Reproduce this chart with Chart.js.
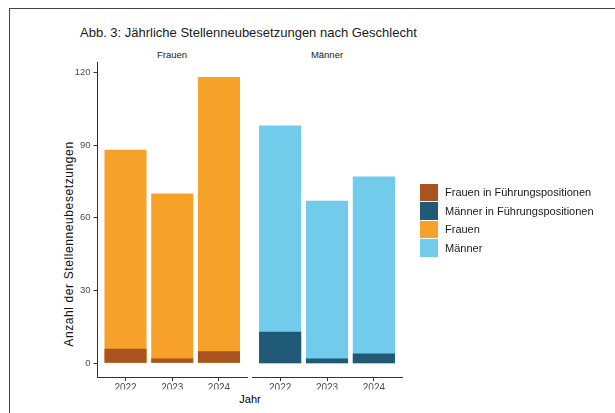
<!DOCTYPE html>
<html lang="de">
<head>
<meta charset="utf-8">
<script src="https://cdn.jsdelivr.net/npm/chart.js@4"></script>
<style>
  html, body { margin:0; padding:0; background:#fff; }
  body { width:615px; height:413px; position:relative; overflow:hidden; font-family:"Liberation Sans", Arial, sans-serif; }
  .frame { position:absolute; left:9px; top:8px; width:620px; height:420px; border-left:1px solid #444; border-top:1px solid #444; }
  .txt { position:absolute; white-space:nowrap; color:#1a1a1a; }
  #title { left:80px; top:25px; font-size:13px; }
  .strip { top:49px; font-size:9.5px; color:#222; transform:translateX(-50%); }
  #xtitle { left:250px; top:393px; font-size:11px; color:#000; transform:translateX(-50%); }
  #ytitle { left:69px; top:244px; font-size:12px; letter-spacing:0.6px; color:#111; transform:translate(-50%,-50%) rotate(-90deg); }
  canvas { position:absolute; top:0; }
  #legend { position:absolute; left:420px; top:183px; }
  .item { display:flex; align-items:center; height:18.6px; }
  .box { width:18px; height:17.5px; margin-right:7px; }
  .lab { font-size:11px; color:#1a1a1a; }
</style>
</head>
<body>
<div class="frame"></div>
<div class="txt" id="title">Abb. 3: Jährliche Stellenneubesetzungen nach Geschlecht</div>
<div class="txt strip" style="left:172px">Frauen</div>
<div class="txt strip" style="left:327px">Männer</div>
<div class="txt" id="ytitle">Anzahl der Stellenneubesetzungen</div>
<div class="txt" id="xtitle">Jahr</div>
<canvas id="left" width="250" height="413" style="left:0;width:250px;height:413px"></canvas>
<canvas id="right" width="200" height="413" style="left:250px;width:200px;height:413px"></canvas>
<div id="legend"></div>
<script>
const years = ['2022', '2023', '2024'];
const yTicks = [0, 30, 60, 90, 120];
const frauen = [88, 70, 118];
const frauenFuehrung = [6, 2, 5];
const maenner = [98, 67, 77];
const maennerFuehrung = [13, 2, 4];

const colors = {
  frauenFuehrung: '#a9541f',
  maennerFuehrung: '#215a76',
  frauen: '#f6a12a',
  maenner: '#72cbea'
};
const legendItems = [
  ['Frauen in Führungspositionen', colors.frauenFuehrung],
  ['Männer in Führungspositionen', colors.maennerFuehrung],
  ['Frauen', colors.frauen],
  ['Männer', colors.maenner]
];

const axisColor = '#333';
const tickFont = { family: 'Liberation Sans', size: 9.5 };

function points(values) {
  return values.map((v, i) => ({ x: i + 1, y: v }));
}

// one facet panel: total bars with the leadership share drawn over them
function panel(id, total, lead, totalColor, leadColor, showY, padLeft, padRight) {
  return new Chart(document.getElementById(id), {
    type: 'bar',
    data: {
      datasets: [
        { label: 'lead', data: points(lead), backgroundColor: leadColor },
        { label: 'total', data: points(total), backgroundColor: totalColor }
      ]
    },
    options: {
      responsive: false,
      animation: false,
      layout: { padding: { top: 62.8, bottom: 23.4, left: padLeft, right: padRight } },
      datasets: { bar: { barPercentage: 0.9, categoryPercentage: 1, borderWidth: 0 } },
      plugins: { legend: { display: false }, tooltip: { enabled: false } },
      scales: {
        x: {
          type: 'linear', stacked: true, min: 0.4, max: 3.6, offset: false,
          afterBuildTicks: s => { s.ticks = years.map((y, i) => ({ value: i + 1 })); },
          afterFit: s => { s.height = 12; },
          grid: { offset: false, drawOnChartArea: false, drawTicks: true, tickLength: 3.5, color: axisColor },
          border: { display: true, color: axisColor, width: 1 },
          ticks: { padding: 1.5, color: '#4d4d4d', font: { family: 'Liberation Sans', size: 10 },
                   maxRotation: 0, autoSkip: false, callback: (v) => years[v - 1] }
        },
        y: {
          display: showY, stacked: false, min: -5.9, max: 123.9,
          afterBuildTicks: s => { s.ticks = yTicks.map(v => ({ value: v })); },
          afterFit: s => { s.width = showY ? 97.5 - padLeft : 0; },
          grid: { drawOnChartArea: false, drawTicks: true, tickLength: 4, color: axisColor },
          border: { display: true, color: axisColor, width: 1 },
          ticks: { padding: 3, color: '#4d4d4d', font: tickFont }
        }
      }
    }
  });
}

panel('left', frauen, frauenFuehrung, colors.frauen, colors.frauenFuehrung, true, 0, 3);
panel('right', maenner, maennerFuehrung, colors.maenner, colors.maennerFuehrung, false, 2, 48);

const legend = document.getElementById('legend');
legendItems.forEach(([name, col]) => {
  const row = document.createElement('div');
  row.className = 'item';
  row.innerHTML = `<div class="box" style="background:${col}"></div><span class="lab">${name}</span>`;
  legend.appendChild(row);
});
</script>
</body>
</html>
